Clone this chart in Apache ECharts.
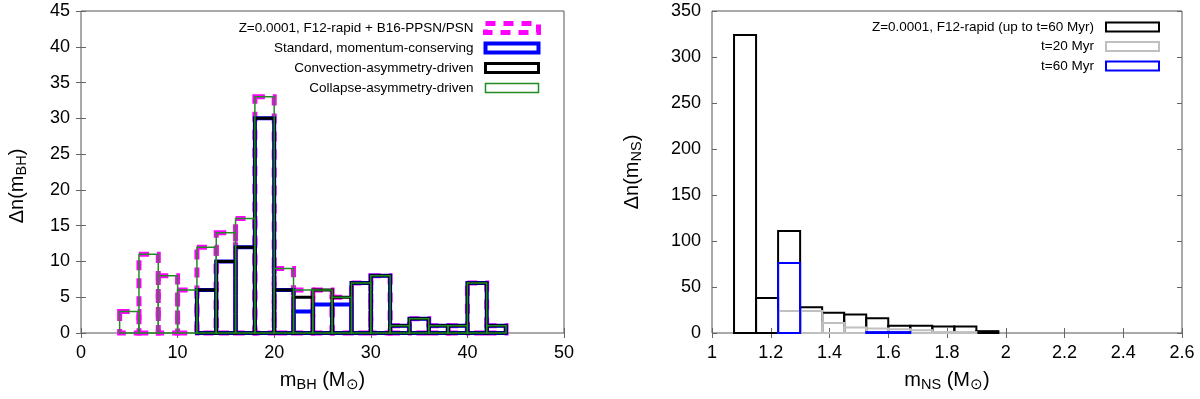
<!DOCTYPE html>
<html>
<head>
<meta charset="utf-8">
<script src="https://cdn.jsdelivr.net/npm/echarts@6/dist/echarts.min.js"></script>
<style>
  html, body { margin: 0; background: #fff; }
  #main { width: 1200px; height: 399px; }
</style>
</head>
<body>
<div id="main"></div>
<script>
// left panel: BH mass histogram, bins of 2 Msun starting at 4
const bhEdges = [4, 6, 8, 10, 12, 14, 16, 18, 20, 22, 24, 26, 28, 30, 32, 34, 36, 38, 40, 42, 44];
const bhPPSN       = [3, 11, 8, 6, 12, 14, 16, 33, 9, 6, 6, 5, 7, 8, 1, 2, 1, 1, 7, 1];
const bhStandard   = [null, null, null, null, 6, 10, 12, 30, 6, 3, 4, 4, 7, 8, 1, 2, 1, 1, 7, 1];
const bhConvection = [null, null, null, null, 6, 10, 12, 30, 6, 5, 6, 5, 7, 8, 1, 2, 1, 1, 7, 1];
const bhCollapse   = [3, 11, 8, 6, 12, 14, 16, 33, 9, 6, 6, 5, 7, 8, 1, 2, 1, 1, 7, 1];

// right panel: NS mass histogram, bins of 0.075 Msun starting at 1.075
const nsEdges = [1.075, 1.15, 1.225, 1.3, 1.375, 1.45, 1.525, 1.6, 1.675, 1.75, 1.825, 1.9, 1.975];
const nsUpTo60 = [324, 38, 111, 28, 22, 20, 16, 8, 8, 7, 7, 2];
const nsT20    = [null, null, 24, 24, 11, 6, 5, 4, 3, 1, 1, null];
const nsT60    = [null, null, 76, null, null, null, 1, 1, null, null, null, null];

const bhNames = ['Z=0.0001, F12-rapid + B16-PPSN/PSN', 'Standard, momentum-conserving',
                 'Convection-asymmetry-driven', 'Collapse-asymmetry-driven'];
const nsNames = ['Z=0.0001, F12-rapid (up to t=60 Myr)', 't=20 Myr', 't=60 Myr'];

const FONT = 'Liberation Sans, Arial, sans-serif';

function toBoxes(edges, counts) {
  const out = [];
  counts.forEach((c, i) => {
    if (c !== null) out.push([edges[i], edges[i + 1], c]);
  });
  return out;
}

// one outlined box per bin, like gnuplot "with boxes"
function boxSeries(name, gi, edges, counts, color, width, dash) {
  return {
    type: 'custom',
    name: name,
    xAxisIndex: gi * 2,
    yAxisIndex: gi * 2,
    silent: true,
    itemStyle: { color: color },
    encode: { x: [0, 1], y: 2 },
    data: toBoxes(edges, counts),
    renderItem: function (params, api) {
      const p0 = api.coord([api.value(0), 0]);
      const p1 = api.coord([api.value(1), api.value(2)]);
      return {
        type: 'rect',
        shape: { x: p0[0], y: p1[1], width: p1[0] - p0[0], height: p0[1] - p1[1] },
        style: { fill: 'none', stroke: color, lineWidth: width, lineDash: dash || null }
      };
    }
  };
}

const rich = {
  a: { fontSize: 20, fontFamily: FONT, color: '#000', lineHeight: 26 },
  s: { fontSize: 14.5, fontFamily: FONT, color: '#000', padding: [10, 0, 0, 0] }
};

function xAx(gi, min, max, interval, name) {
  return [{
    type: 'value', gridIndex: gi, min: min, max: max, interval: interval,
    name: name, nameLocation: 'middle', nameGap: 34,
    nameTextStyle: { rich: rich },
    axisLine: { show: false },
    axisTick: { inside: true, length: 5, lineStyle: { color: '#666' } },
    axisLabel: { fontSize: 18, fontFamily: FONT, color: '#000', margin: 11 },
    splitLine: { show: false }
  }, {
    type: 'value', gridIndex: gi, min: min, max: max, interval: interval, position: 'top',
    axisLine: { show: false },
    axisTick: { inside: true, length: 5, lineStyle: { color: '#666' } },
    axisLabel: { show: false }, splitLine: { show: false }
  }];
}

function yAx(gi, min, max, interval, name, gap, pad) {
  return [{
    type: 'value', gridIndex: gi, min: min, max: max, interval: interval,
    name: name, nameLocation: 'middle', nameGap: gap,
    nameTextStyle: { rich: rich, padding: pad },
    axisLine: { show: false },
    axisTick: { inside: true, length: 5, lineStyle: { color: '#666' } },
    axisLabel: { fontSize: 18, fontFamily: FONT, color: '#000', margin: 11 },
    splitLine: { show: false }
  }, {
    type: 'value', gridIndex: gi, min: min, max: max, interval: interval, position: 'right',
    axisLine: { show: false },
    axisTick: { inside: true, length: 5, lineStyle: { color: '#666' } },
    axisLabel: { show: false }, splitLine: { show: false }
  }];
}

const legendText = { fontSize: 13.5, fontFamily: FONT, color: '#000', lineHeight: 16, padding: [0, 7, 0, 0] };

const option = {
  animation: false,
  backgroundColor: '#fff',
  grid: [
    { left: 81, top: 11, width: 483, height: 322, show: true, borderColor: '#555', borderWidth: 1 },
    { left: 712, top: 11, width: 470, height: 322, show: true, borderColor: '#555', borderWidth: 1 }
  ],
  xAxis: [].concat(
    xAx(0, 0, 50, 10, '{a|m}{s|BH}{a| (M}{s|⊙}{a|)}'),
    xAx(1, 1, 2.6, 0.2, '{a|m}{s|NS}{a| (M}{s|⊙}{a|)}')
  ),
  yAxis: [].concat(
    yAx(0, 0, 45, 5, '{a|Δn(m}{s|BH}{a|)}', 51, [0, 28, 0, 0]),
    yAx(1, 0, 350, 50, '{a|Δn(m}{s|NS}{a|)}', 67, 0)
  ),
  legend: [{
    orient: 'vertical', align: 'right', right: 659, top: 20, padding: 0,
    itemWidth: 53, itemHeight: 9, itemGap: 4, selectedMode: false,
    textStyle: legendText,
    data: [
      { name: bhNames[0], icon: 'rect', itemStyle: { color: '#fff', borderColor: '#ff00ff', borderWidth: 5, borderType: [10, 8] } },
      { name: bhNames[1], icon: 'rect', itemStyle: { color: '#fff', borderColor: '#0000ff', borderWidth: 4 } },
      { name: bhNames[2], icon: 'rect', itemStyle: { color: '#fff', borderColor: '#000', borderWidth: 3 } },
      { name: bhNames[3], icon: 'rect', itemStyle: { color: '#fff', borderColor: '#228b22', borderWidth: 1.5 } }
    ]
  }, {
    orient: 'vertical', align: 'right', right: 40, top: 19, padding: 0,
    itemWidth: 53, itemHeight: 9, itemGap: 3.5, selectedMode: false,
    textStyle: legendText,
    data: [
      { name: nsNames[0], icon: 'rect', itemStyle: { color: '#fff', borderColor: '#000', borderWidth: 2 } },
      { name: nsNames[1], icon: 'rect', itemStyle: { color: '#fff', borderColor: '#c0c0c0', borderWidth: 2 } },
      { name: nsNames[2], icon: 'rect', itemStyle: { color: '#fff', borderColor: '#0000ff', borderWidth: 2 } }
    ]
  }],
  series: [
    boxSeries(bhNames[0], 0, bhEdges, bhPPSN, '#ff00ff', 5, [10, 8]),
    boxSeries(bhNames[1], 0, bhEdges, bhStandard, '#0000ff', 4),
    boxSeries(bhNames[2], 0, bhEdges, bhConvection, '#000', 3),
    boxSeries(bhNames[3], 0, bhEdges, bhCollapse, '#228b22', 1.5),
    boxSeries(nsNames[0], 1, nsEdges, nsUpTo60, '#000', 2),
    boxSeries(nsNames[1], 1, nsEdges, nsT20, '#c0c0c0', 2),
    boxSeries(nsNames[2], 1, nsEdges, nsT60, '#0000ff', 2)
  ]
};

const myChart = echarts.init(document.getElementById('main'));
myChart.setOption(option);
</script>
</body>
</html>
